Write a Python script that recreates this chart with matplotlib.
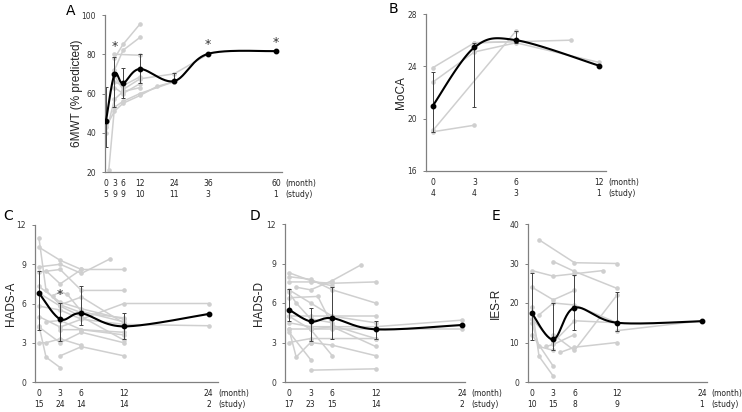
import numpy as np
import matplotlib.pyplot as plt

plt.rcParams['font.family'] = ['DejaVu Sans']

# ---------------- data ----------------
# A: 6MWT (% predicted)
a_months = [0, 3, 6, 12, 24, 36, 60]
a_nstudy = [5, 9, 9, 10, 11, 3, 1]
a_mean = [46, 69.8, 65.2, 72.5, 66.3, 80.2, 81.6]
a_lo = [32.8, 53.2, 57.8, 65.2, 65.8, None, None]
a_hi = [63.3, 78.8, 73.2, 80.2, 70.6, None, None]
a_star = [3, 36, 60]
a_studies = [
    ([3, 6, 12], [78, 85, 95.4]),
    ([3, 6, 12], [72, 82, 88.6]),
    ([3, 12], [80, 79.5]),
    ([1, 3, 6, 12, 24], [21.2, 53, 56, 60, 66]),
    ([0, 3, 6, 12, 18, 24], [43, 51, 55, 59, 63.6, 66]),
    ([3, 6, 12, 24, 36], [69, 62, 67.5, 70, 80]),
    ([3, 6, 12], [63, 60, 65]),
    ([0, 3, 6, 12], [40, 57, 61, 63]),
    ([3, 6, 12], [66, 64, 68.5]),
]

# B: MoCA
b_months = [0, 3, 6, 12]
b_nstudy = [4, 4, 3, 1]
b_mean = [21.0, 25.45, 26.0, 24.05]
b_lo = [19.0, 20.9, 25.75, None]
b_hi = [23.6, 25.8, 26.7, None]
b_studies = [
    ([0, 3, 10], [23.9, 25.8, 26.0]),
    ([0, 3, 6, 12], [22.8, 25.1, 25.8, 24.3]),
    ([0, 6], [19.1, 26.7]),
    ([0, 3], [19.0, 19.5]),
    ([3, 6], [25.8, 25.9]),
]

# C: HADS-A
c_months = [0, 3, 6, 12, 24]
c_nstudy = [15, 24, 14, 14, 2]
c_mean = [6.8, 4.8, 5.25, 4.25, 5.2]
c_lo = [3.95, 3.1, 4.35, 3.25, None]
c_hi = [8.5, 6.05, 7.35, 5.25, None]
c_star = [3]
c_studies = [
    ([0, 1, 3, 6, 12], [11.0, 7.0, 5.9, 5.3, 4.9]),
    ([0, 3, 6, 12], [10.3, 9.3, 8.6, 8.6]),
    ([0, 3, 6, 10], [8.8, 9.0, 8.3, 9.4]),
    ([1, 3, 6], [8.5, 7.5, 8.6]),
    ([0, 3, 6, 12], [8.4, 8.6, 7.0, 7.0]),
    ([2, 3, 4, 6, 12], [6.6, 6.9, 6.7, 5.4, 4.6]),
    ([0, 3, 6, 12], [7.3, 6.1, 5.6, 4.8]),
    ([0, 3, 12, 24], [5.0, 4.2, 6.0, 6.0]),
    ([0, 3, 6, 12, 24], [5.8, 5.5, 4.8, 4.4, 4.3]),
    ([0, 3, 6, 12], [4.2, 3.0, 3.8, 3.0]),
    ([0, 1, 3], [4.3, 1.9, 1.1]),
    ([0, 1, 3, 6], [3.0, 3.0, 3.3, 2.8]),
    ([3, 6, 12], [2.0, 2.7, 2.0]),
    ([3, 6, 12], [4.0, 4.0, 3.6]),
    ([1, 3, 6, 12], [4.6, 4.7, 4.0, 3.8]),
    ([3, 6, 12], [5.9, 6.5, 4.5]),
    ([0, 3, 6, 12], [6.8, 5.8, 5.0, 3.2]),
]

# D: HADS-D
d_months = [0, 3, 6, 12, 24]
d_nstudy = [17, 23, 15, 14, 2]
d_mean = [5.5, 4.6, 4.85, 4.0, 4.33]
d_lo = [4.6, 3.1, 3.3, 3.3, None]
d_hi = [7.1, 5.6, 7.25, 4.6, None]
d_studies = [
    ([0, 3, 6], [8.3, 7.7, 7.3]),
    ([0, 3, 6, 12], [8.0, 7.8, 7.0, 6.0]),
    ([1, 3, 6, 10], [7.2, 7.0, 7.7, 8.9]),
    ([0, 3, 6, 12], [7.6, 7.6, 7.5, 7.6]),
    ([0, 1, 3, 6], [6.8, 6.0, 4.8, 4.5]),
    ([0, 4, 6, 12], [6.4, 6.5, 4.3, 3.3]),
    ([0, 1, 3], [4.0, 1.9, 3.0]),
    ([0, 3], [3.8, 1.7]),
    ([3, 12], [0.9, 1.0]),
    ([3, 6, 12], [3.0, 2.8, 2.0]),
    ([0, 3, 6], [5.0, 4.0, 2.0]),
    ([0, 3, 6, 12, 24], [4.0, 4.0, 4.0, 4.0, 4.0]),
    ([0, 3, 6, 12, 24], [4.5, 4.2, 4.2, 4.2, 4.7]),
    ([3, 6, 12], [4.0, 4.2, 2.7]),
    ([0, 3, 6, 12], [5.0, 5.0, 5.0, 5.0]),
    ([0, 3, 6, 12], [7.0, 6.0, 5.0, 4.5]),
    ([0, 3, 12], [3.0, 3.3, 3.3]),
]

# E: IES-R
e_months = [0, 3, 6, 12, 24]
e_nstudy = [10, 15, 8, 9, 1]
e_mean = [17.4, 10.8, 18.8, 15.0, 15.4]
e_lo = [10.6, 8.2, 13.1, 12.9, None]
e_hi = [27.5, 19.9, 27.1, 22.7, None]
e_studies = [
    ([1, 6, 12], [36.0, 30.2, 30.0]),
    ([0, 3, 6, 10], [28.2, 26.8, 27.4, 28.2]),
    ([3, 6, 12], [30.5, 28.0, 23.7]),
    ([0, 3, 6], [24.0, 20.8, 23.2]),
    ([0, 1, 3], [19.0, 6.5, 1.5]),
    ([1, 3, 6, 12], [17.0, 20.0, 19.5, 15.0]),
    ([0, 3, 6, 12], [16.0, 10.0, 15.5, 15.0]),
    ([3, 6, 12], [12.0, 8.0, 22.0]),
    ([4, 6, 12], [7.5, 8.8, 10.0]),
    ([12, 24], [13.0, 15.5]),
    ([0, 3], [12.0, 4.0]),
    ([2, 3, 6], [9.0, 9.5, 12.0]),
    ([0, 1, 3], [15.0, 9.0, 8.0]),
]

GREY = '#cfcfcf'
W, H = 742, 412
LABEL_FONT = ['Liberation Sans Narrow', 'Liberation Sans', 'DejaVu Sans']


def smooth(x, y, n=40):
    # Excel style smoothed line (cubic Bezier, 1/6 tangent)
    P = np.column_stack([x, y]).astype(float)
    Q = np.vstack([P[0], P, P[-1]])
    out = []
    t = np.linspace(0, 1, n)[:, None]
    for i in range(len(P) - 1):
        p0, p3 = Q[i + 1], Q[i + 2]
        c1 = p0 + (Q[i + 2] - Q[i]) / 6
        c2 = p3 - (Q[i + 3] - Q[i + 1]) / 6
        seg = (1 - t) ** 3 * p0 + 3 * (1 - t) ** 2 * t * c1 + 3 * (1 - t) * t ** 2 * c2 + t ** 3 * p3
        out.append(seg)
    out = np.vstack(out)
    return out[:, 0], out[:, 1]


def panel(rect, xlim, ylim, yticks, months, nstudy, mean, lo, hi, studies,
          ylabel, letter, stars=(), star_y=None, ylabel_x=-0.12):
    ax = fig.add_axes([rect[0] / W, 1 - rect[3] / H, (rect[2] - rect[0]) / W, (rect[3] - rect[1]) / H])
    for m, v in studies:
        ax.plot(m, v, color=GREY, lw=1.1, marker='o', ms=2.3, zorder=1)
    sx, sy = smooth(months, mean)
    ax.plot(sx, sy, color='black', lw=1.5, zorder=3)
    ax.plot(months, mean, 'o', color='black', ms=3.2, zorder=4)
    for m, v, l, h in zip(months, mean, lo, hi):
        if l is None:
            continue
        ax.errorbar([m], [v], yerr=[[v - l], [h - v]], fmt='none', ecolor='#404040',
                    elinewidth=0.7, capsize=1.6, capthick=0.7, zorder=2)
    if star_y is not None:
        for m, yy in zip(stars, star_y):
            ax.text(m, yy, '*', ha='center', va='center', fontsize=9, color='#333333')
    ax.set_xlim(*xlim)
    ax.set_ylim(*ylim)
    ax.set_yticks(yticks)
    ax.set_xticks([])
    for s in ['top', 'right']:
        ax.spines[s].set_visible(False)
    for s in ['left', 'bottom']:
        ax.spines[s].set_color('#808080')
        ax.spines[s].set_linewidth(0.9)
    ax.tick_params(axis='y', labelsize=5.5, length=2.5, width=0.7, color='#808080',
                   labelcolor='#333333', pad=4)
    for m, n in zip(months, nstudy):
        ax.annotate(str(m), xy=(m, 0), xycoords=('data', 'axes fraction'), xytext=(0, -8),
                    textcoords='offset points', ha='center', va='center', fontsize=5.5, color='#222222')
        ax.annotate(str(n), xy=(m, 0), xycoords=('data', 'axes fraction'), xytext=(0, -16),
                    textcoords='offset points', ha='center', va='center', fontsize=5.5, color='#222222')
    ax.annotate('(month)', xy=(months[-1], 0), xycoords=('data', 'axes fraction'), xytext=(7, -8),
                textcoords='offset points', ha='left', va='center', fontsize=5.5, color='#222222')
    ax.annotate('(study)', xy=(months[-1], 0), xycoords=('data', 'axes fraction'), xytext=(7, -16),
                textcoords='offset points', ha='left', va='center', fontsize=5.5, color='#222222')
    ax.set_ylabel(ylabel, fontsize=8.5, color='#222222', family=LABEL_FONT)
    ax.yaxis.set_label_coords(ylabel_x, 0.5)
    ax.text(letter[1] / W, 1 - letter[2] / H, letter[0], transform=fig.transFigure,
            fontsize=10, ha='center', va='center')
    return ax


fig = plt.figure(figsize=(W / 100, H / 100), dpi=100)

panel((105, 15, 282, 172), (-0.35, 62.1), (20, 100), [20, 40, 60, 80, 100],
      a_months, a_nstudy, a_mean, a_lo, a_hi, a_studies, '6MWT (% predicted)',
      ('A', 71, 11), a_star, [84, 85, 86.2], ylabel_x=-0.125)
panel((426, 14, 606, 171), (-0.5, 12.5), (16, 28), [16, 20, 24, 28],
      b_months, b_nstudy, b_mean, b_lo, b_hi, b_studies, 'MoCA',
      ('B', 393, 9), ylabel_x=-0.105)
panel((35, 225, 218, 382), (-0.56, 25.3), (0, 12), [0, 3, 6, 9, 12],
      c_months, c_nstudy, c_mean, c_lo, c_hi, c_studies, 'HADS-A',
      ('C', 8, 216), c_star, [6.7], ylabel_x=-0.1)
panel((285, 224, 465, 382), (-0.55, 24.4), (0, 12), [0, 3, 6, 9, 12],
      d_months, d_nstudy, d_mean, d_lo, d_hi, d_studies, 'HADS-D',
      ('D', 255, 216), ylabel_x=-0.11)
panel((528, 224, 707, 382), (-0.56, 24.7), (0, 40), [0, 10, 20, 30, 40],
      e_months, e_nstudy, e_mean, e_lo, e_hi, e_studies, 'IES-R',
      ('E', 496, 216), ylabel_x=-0.145)

fig.savefig('out.png', dpi=100)
